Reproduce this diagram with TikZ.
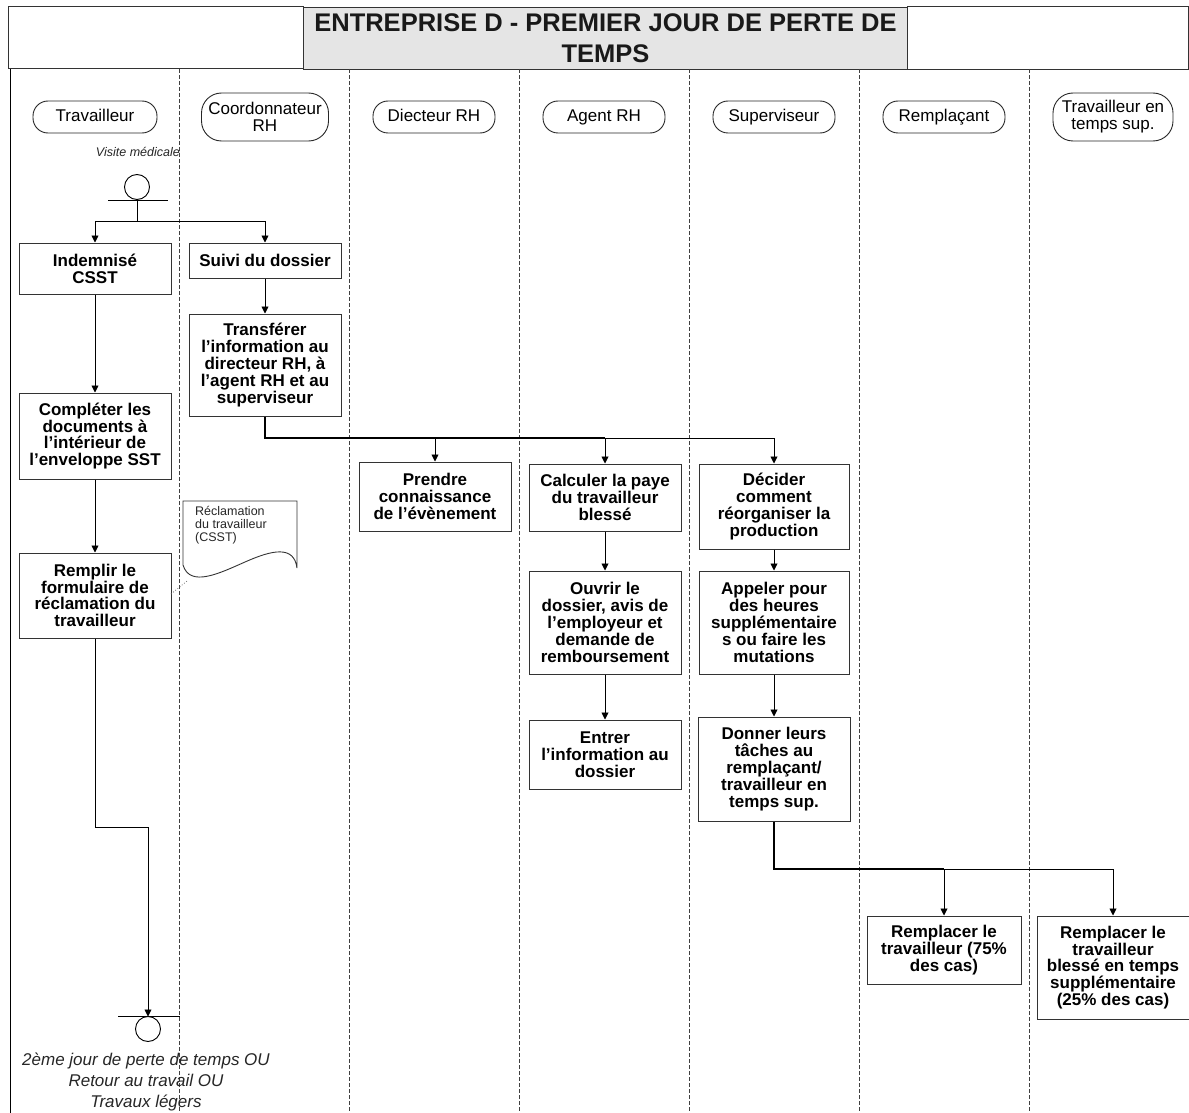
\documentclass[tikz,border=0pt]{standalone}
\usepackage{fontspec}
\setmainfont{Liberation Sans}
\usetikzlibrary{arrows.meta}
\begin{document}
\begin{tikzpicture}[x=1pt,y=-1pt,
  box/.style={draw=black!80, line width=1pt, fill=white, minimum width=152pt, align=center,
    font=\fontsize{17}{16.8}\selectfont\bfseries, inner sep=2pt},
  lanehead/.style={rounded corners=15pt, draw=black!85, line width=0.9pt, minimum width=124pt,
    minimum height=32pt, align=center, font=\fontsize{17}{17}\selectfont, inner sep=1pt},
  laneone/.style={lanehead, text height=12.5pt, text depth=3.5pt},
  arr/.style={-{Triangle[length=7pt,width=7pt]}, line width=0.9pt},
  plain/.style={line width=0.9pt},
  lanesep/.style={dash pattern=on 4pt off 2pt, line width=0.8pt, draw=black!75},
  note/.style={font=\fontsize{17}{21}\selectfont\itshape, align=center, text=black!85}
]
\useasboundingbox (0,0) rectangle (1189,1113);

% title bar
\draw[line width=1pt, draw=black!80] (8,7) rectangle (303,69);
\node[draw=black!80, fill=black!10, line width=1pt, minimum width=604pt, minimum height=62pt,
  anchor=north west, inner sep=0pt] (title) at (303,7) {};
\node[font=\fontsize{25.5}{31}\selectfont\bfseries, align=center, text=black!90] (titletext) at (title.center)
  {ENTREPRISE D - PREMIER JOUR DE PERTE DE\\TEMPS};
\draw[line width=1pt, draw=black!80] (907,7) rectangle (1188.5,70);

% lanes
\draw[line width=1pt] (10,69) -- (10,1113);
\foreach \x in {179,349,...,1029} \draw[lanesep] (\x,69) -- (\x,1113);

% lane headers
\node[laneone] (h1) at (95,117) {Travailleur};
\node[lanehead, minimum width=127pt, minimum height=48pt, rounded corners=20pt] (h2) at (265,117) {Coordonnateur\\RH};
\node[laneone, minimum width=122pt] (h3) at (434,117) {Diecteur RH};
\node[laneone, minimum width=122pt] (h4) at (604,117) {Agent RH};
\node[laneone, minimum width=122pt] (h5) at (774,117) {Superviseur};
\node[laneone, minimum width=122pt] (h6) at (944,117) {Remplaçant};
\node[lanehead, minimum width=120pt, minimum height=48pt, rounded corners=20pt] (h7) at (1113,117) {Travailleur en\\temps sup.};

\node[font=\fontsize{12.5}{14}\selectfont\itshape, anchor=east, inner sep=0pt, text=black!85] (visite) at (180,152) {Visite médicale};

% start
\node[circle, draw, line width=0.9pt, minimum size=25pt, inner sep=0pt] (start) at (137,187) {};
\draw[plain] (108,200) -- (168,200);
\coordinate (sb) at (137,200);
\coordinate (j0) at (137,221.5);

% boxes
\node[box, minimum height=51pt] (ind) at (95,268.5) {Indemnisé\\CSST};
\node[box, minimum height=35pt] (suivi) at (265,260.5) {Suivi du dossier};
\node[box, minimum height=102pt] (transf) at (265,365) {Transférer\\l’information au\\directeur RH, à\\l’agent RH et au\\superviseur};
\node[box, minimum height=86pt] (compl) at (95,436) {Compléter les\\documents à\\l’intérieur de\\l’enveloppe SST};
\node[box, minimum height=85pt] (rempl) at (95,595.5) {Remplir le\\formulaire de\\réclamation du\\travailleur};
\node[box, minimum height=69pt] (prendre) at (435,496.5) {Prendre\\connaissance\\de l’évènement};
\node[box, minimum height=67pt] (calc) at (605,497.5) {Calculer la paye\\du travailleur\\blessé};
\node[box, minimum width=150pt, minimum height=85pt] (decid) at (774,506.5) {Décider\\comment\\réorganiser la\\production};
\node[box, minimum height=103pt] (ouvrir) at (605,622.5) {Ouvrir le\\dossier, avis de\\l’employeur et\\demande de\\remboursement};
\node[box, minimum width=150pt, minimum height=103pt] (appel) at (774,622.5) {Appeler pour\\des heures\\supplémentaire\\s ou faire les\\mutations};
\node[box, minimum height=69pt] (entrer) at (605,754.5) {Entrer\\l’information au\\dossier};
\node[box, minimum height=104pt] (donner) at (774,769) {Donner leurs\\tâches au\\remplaçant/\\travailleur en\\temps sup.};
\node[box, minimum width=154pt, minimum height=68pt] (rempA) at (944,950) {Remplacer le\\travailleur (75\%\\des cas)};
\node[box, minimum height=103pt] (rempB) at (1113,967.5) {Remplacer le\\travailleur\\blessé en temps\\supplémentaire\\(25\% des cas)};

% document
\draw[line width=0.9pt, draw=black!80, fill=white] (183,501) -- (297,501) -- (297,568)
  .. controls (294,545) and (272,550) .. (245,562)
  .. controls (220,573) and (190,588) .. (183,565) -- cycle;
\node[font=\fontsize{12.5}{12.8}\selectfont, align=left, anchor=north west, inner sep=0pt, text=black!85] (doc) at (195,506)
  {Réclamation\\du travailleur\\(CSST)};
\coordinate (docpt) at (187,581);
\draw[dotted, line width=0.8pt, draw=black!60] (171,594) -- (docpt);

% connectors
\draw[plain] (sb) -- (j0);
\draw[arr] (j0) -| (ind.north);
\draw[arr] (j0) -| (suivi.north);
\draw[arr] (ind) -- (compl);
\draw[arr] (compl) -- (rempl);
\draw[arr] (suivi) -- (transf);
\coordinate (j1) at (265,438);
\draw[line width=1.4pt] (transf.south) -- (j1) -- (605,438);
\draw[arr] (j1) -| (prendre.north);
\draw[arr] (j1) -| (calc.north);
\draw[arr] (j1) -| (decid.north);
\draw[arr] (calc) -- (ouvrir);
\draw[arr] (ouvrir) -- (entrer);
\draw[arr] (decid) -- (appel);
\draw[arr] (appel) -- (donner);
\coordinate (j2) at (774,869);
\draw[line width=1.4pt] (donner.south) -- (j2) -- (944,869);
\draw[arr] (j2) -| (rempA.north);
\draw[arr] (j2) -| (rempB.north);

% end
\coordinate (endbar) at (148,1016.5);
\draw[plain] (118,1016.5) -- (180,1016.5);
\node[circle, draw, line width=0.9pt, minimum size=25pt, inner sep=0pt] (stop) at (148,1029) {};
\draw[arr] (rempl.south) -- (95,827.5) -| (endbar);
\node[note] (endtext) at (146,1082) {2ème jour de perte de temps OU\\Retour au travail OU\\Travaux légers};
\end{tikzpicture}
\end{document}
